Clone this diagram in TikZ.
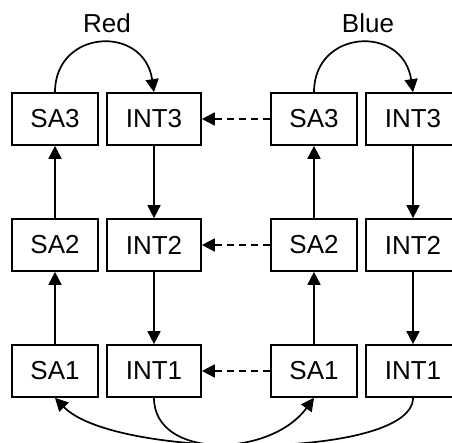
\documentclass[tikz,border=0pt]{standalone}
\usepackage{fontspec}
\setmainfont{Liberation Sans}
\usetikzlibrary{arrows.meta}
\begin{document}
\begin{tikzpicture}[x=1pt,y=-1pt,
  every node/.style={font=\fontsize{26}{30}\selectfont},
  sabox/.style={draw,line width=1.7pt,minimum width=86pt,minimum height=52pt,inner sep=0pt},
  intbox/.style={draw,line width=1.7pt,minimum width=94pt,minimum height=52pt,inner sep=0pt},
  link/.style={line width=1.7pt,-{Triangle[length=13pt,width=13pt]}},
  cross/.style={link,dashed,dash pattern=on 7pt off 5pt}]
\useasboundingbox (0,0) rectangle (452,443);
% left pair of columns
\node[sabox] (lsa3) at (55,119) {SA3};
\node[sabox] (lsa2) at (55,245) {SA2};
\node[sabox] (lsa1) at (55,371) {SA1};
\node[intbox] (lint3) at (154,119) {INT3};
\node[intbox] (lint2) at (154,245) {INT2};
\node[intbox] (lint1) at (154,371) {INT1};
% right pair of columns
\node[sabox] (rsa3) at (314,119) {SA3};
\node[sabox] (rsa2) at (314,245) {SA2};
\node[sabox] (rsa1) at (314,371) {SA1};
\node[intbox] (rint3) at (413,119) {INT3};
\node[intbox] (rint2) at (413,245) {INT2};
\node[intbox] (rint1) at (413,371) {INT1};
% titles
\node (red) at (107,23) {Red};
\node (blue) at (368,23) {Blue};
% vertical chains
\draw[link] (lsa1) -- (lsa2);
\draw[link] (lsa2) -- (lsa3);
\draw[link] (lint3) -- (lint2);
\draw[link] (lint2) -- (lint1);
\draw[link] (rsa1) -- (rsa2);
\draw[link] (rsa2) -- (rsa3);
\draw[link] (rint3) -- (rint2);
\draw[link] (rint2) -- (rint1);
% dashed links between the groups
\draw[cross] (rsa3) -- (lint3);
\draw[cross] (rsa2) -- (lint2);
\draw[cross] (rsa1) -- (lint1);
% top loops
\draw[link] (lsa3.north) .. controls +(0,-63) and +(-10,-68) .. (lint3.north);
\draw[link] (rsa3.north) .. controls +(0,-63) and +(-10,-68) .. (rint3.north);
% bottom crossing curves
\draw[link] (lint1.south) .. controls +(0,62) and +(-44,60) .. (rsa1.south);
\draw[link] (rint1.south) .. controls +(0,62) and +(60,62) .. (lsa1.south);
\end{tikzpicture}
\end{document}
